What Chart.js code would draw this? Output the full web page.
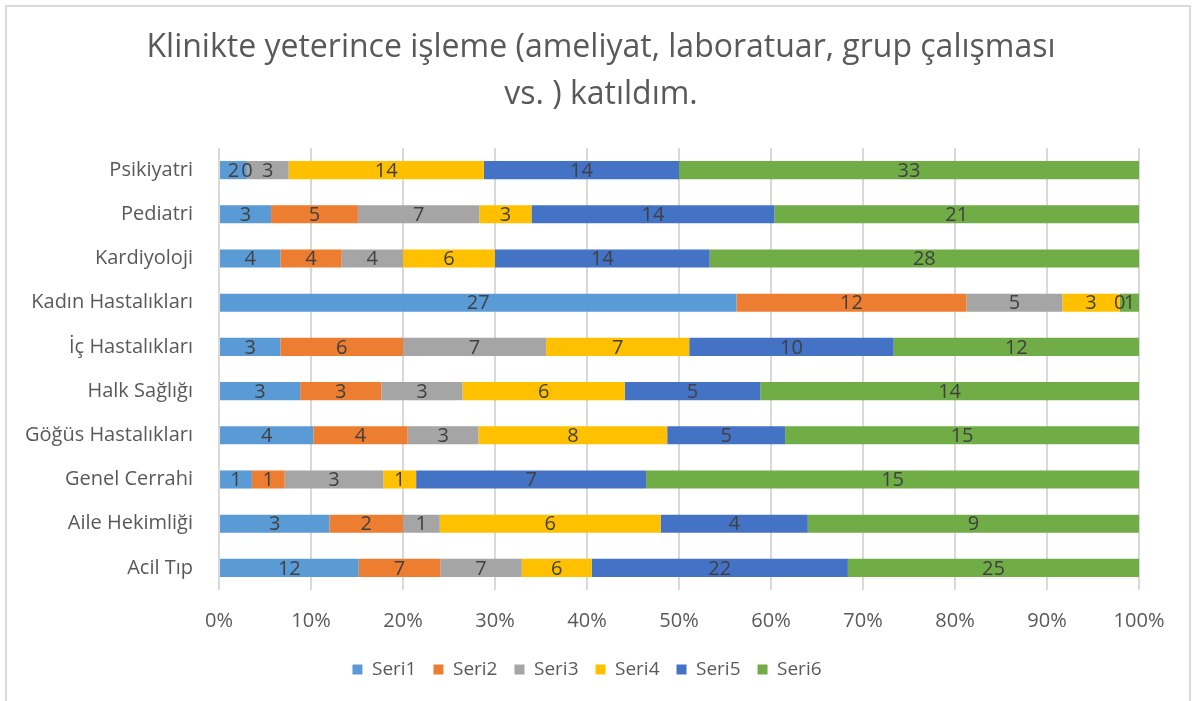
<!DOCTYPE html>
<html>
<head>
<meta charset="utf-8">
<script src="https://cdn.jsdelivr.net/npm/chart.js"></script>
<style>
html,body{margin:0;padding:0;background:#fff;}
#frame{position:absolute;left:5px;top:5px;width:1186px;height:720px;border:2px solid #d9d9d9;box-sizing:border-box;}
#wrap{position:absolute;left:0;top:0;width:1202px;height:701px;}
</style>
</head>
<body>
<div id="frame"></div>
<div id="wrap"><canvas id="chart"></canvas></div>
<script>
const categories=["Psikiyatri","Pediatri","Kardiyoloji","Kadın Hastalıkları","İç Hastalıkları","Halk Sağlığı","Göğüs Hastalıkları","Genel Cerrahi","Aile Hekimliği","Acil Tıp"];

const seri1=[2,3,4,27,3,3,4,1,3,12];
const seri2=[0,5,4,12,6,3,4,1,2,7];
const seri3=[3,7,4,5,7,3,3,3,1,7];
const seri4=[14,3,6,3,7,6,8,1,6,6];
const seri5=[14,14,14,0,10,5,5,7,4,22];
const seri6=[33,21,28,1,12,14,15,15,9,25];

const seriesNames=["Seri1","Seri2","Seri3","Seri4","Seri5","Seri6"];
const seriesColors=["#5b9bd5","#ed7d31","#a5a5a5","#ffc000","#4472c4","#70ad47"];
const titleLines=["Klinikte yeterince işleme (ameliyat, laboratuar, grup çalışması","vs. ) katıldım."];

let all=[seri1,seri2,seri3,seri4,seri5,seri6];

let totals=categories.map((c,i)=>{
let s=0;
all.forEach(a=>{s+=a[i];});
return s;
});

let datasets=all.map((arr,k)=>({
label:seriesNames[k],
data:arr.map((v,i)=>v/totals[i]*100),
counts:arr,
backgroundColor:seriesColors[k],
borderWidth:0,
barPercentage:0.41,
categoryPercentage:1
}));

// draw the raw counts in the middle of each segment
const valueLabels={
id:"valueLabels",
afterDatasetsDraw(chart){
let ctx=chart.ctx;
ctx.save();
ctx.font="20px 'Open Sans'";
ctx.fillStyle="#404040";
ctx.textAlign="center";
ctx.textBaseline="middle";
chart.data.datasets.forEach((ds,k)=>{
let meta=chart.getDatasetMeta(k);
meta.data.forEach((el,i)=>{
let cx=(el.x+el.base)/2;
ctx.fillText(String(ds.counts[i]),cx,el.y+1);
});
});
ctx.restore();
}
};

// title centred on the whole picture
const pageTitle={
id:"pageTitle",
afterDraw(chart){
let ctx=chart.ctx;
ctx.save();
ctx.font="32px 'Open Sans'";
ctx.fillStyle="#595959";
ctx.textAlign="center";
ctx.textBaseline="middle";
titleLines.forEach((t,i)=>{
ctx.fillText(t,chart.width/2,48+i*47);
});
ctx.restore();
}
};

Chart.defaults.font.family="'Open Sans'";
Chart.defaults.color="#595959";

new Chart(document.getElementById("chart"),{
type:"bar",
data:{labels:categories,datasets:datasets},
plugins:[valueLabels,pageTitle],
options:{
indexAxis:"y",
responsive:true,
maintainAspectRatio:false,
animation:false,
layout:{padding:{left:0,right:28,top:148,bottom:12}},
plugins:{
title:{display:false},
legend:{
position:"bottom",
labels:{
boxWidth:10,
boxHeight:10,
padding:17,
color:"#595959",
font:{size:19}
}
},
tooltip:{enabled:false}
},
scales:{
x:{
stacked:true,
min:0,
max:100,
ticks:{
stepSize:10,
padding:19,
color:"#595959",
font:{size:20},
callback:v=>v+"%"
},
grid:{color:"#d9d9d9",lineWidth:2,drawTicks:false},
border:{display:false},
afterFit(scale){scale.height=53;}
},
y:{
stacked:true,
ticks:{
padding:26,
color:"#595959",
font:{size:20}
},
grid:{display:false,drawTicks:false},
border:{display:false},
afterFit(scale){scale.width=219;}
},
yRight:{
type:"category",
position:"right",
ticks:{display:false},
grid:{display:false,drawTicks:false},
border:{display:false},
afterFit(scale){scale.width=35;}
}
}
}
});
</script>
</body>
</html>
